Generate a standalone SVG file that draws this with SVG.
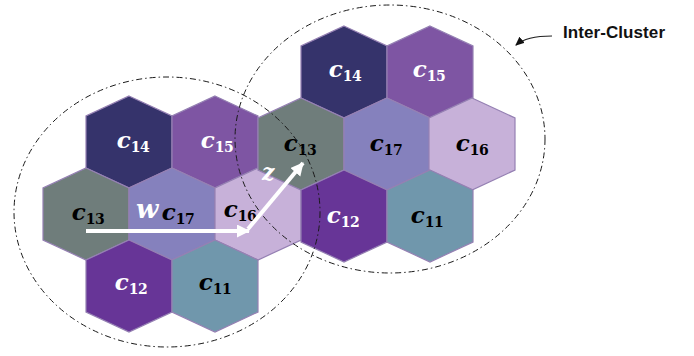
<svg xmlns="http://www.w3.org/2000/svg" width="694" height="356" viewBox="0 0 694 356">
<style>
.hex{stroke:#9580b3;stroke-width:1.2}
.f14{fill:#35336b}.f15{fill:#7e55a3}.f13{fill:#6f7d7b}.f17{fill:#8581bd}.f16{fill:#c7b1d9}.f12{fill:#673597}.f11{fill:#7097ac}
.lbl{font-family:"DejaVu Serif","Liberation Serif",serif;text-anchor:middle}
.c{font-size:23px;font-weight:bold;font-style:italic}
.s{font-size:14px;font-weight:bold;letter-spacing:-0.5px}
.wt{fill:#ffffff}.bk{fill:#000000}
.ell{fill:none;stroke:#1a1a1a;stroke-width:1;stroke-dasharray:6 3 1.5 3}
.arr{stroke:#ffffff;stroke-width:4;fill:none}
.ptr{stroke:#222;stroke-width:1.2;fill:none}
.var{font-family:"DejaVu Serif","Liberation Serif",serif;font-weight:bold;font-style:italic;fill:#ffffff}
.title{font-family:"Liberation Sans",Arial,sans-serif;font-weight:bold;font-size:17px;fill:#111}
</style>
<defs>
<path id="hx" d="M0,-46 L43,-26 L43,26 L0,46 L-43,26 L-43,-26 Z"/>
<marker id="wh" markerUnits="userSpaceOnUse" markerWidth="14" markerHeight="14" refX="12" refY="6.5" orient="auto" viewBox="0 0 14 14">
<path d="M0,0 L13,6.5 L0,13 Z" fill="#ffffff"/>
</marker>
<marker id="bh" markerUnits="userSpaceOnUse" markerWidth="10" markerHeight="10" refX="8" refY="4" orient="auto" viewBox="0 0 10 10">
<path d="M0,0 L9,4 L0,8 Z" fill="#111"/>
</marker>
</defs>

<g id="left-cluster">
<g id="L-c14"><use href="#hx" class="hex f14" x="129" y="142"/><text class="lbl wt" x="133" y="148"><tspan class="c">c</tspan><tspan class="s" dy="4">14</tspan></text></g>
<g id="L-c15"><use href="#hx" class="hex f15" x="215" y="142"/><text class="lbl wt" x="217" y="148"><tspan class="c">c</tspan><tspan class="s" dy="4">15</tspan></text></g>
<g id="L-c13"><use href="#hx" class="hex f13" x="86" y="214"/><text class="lbl bk" x="88" y="220"><tspan class="c">c</tspan><tspan class="s" dy="4">13</tspan></text></g>
<g id="L-c17"><use href="#hx" class="hex f17" x="172" y="214"/><text class="lbl bk" x="178" y="220"><tspan class="c">c</tspan><tspan class="s" dy="4">17</tspan></text></g>
<g id="L-c16"><use href="#hx" class="hex f16" x="258" y="214"/><text class="lbl bk" x="240" y="217"><tspan class="c">c</tspan><tspan class="s" dy="4">16</tspan></text></g>
<g id="L-c12"><use href="#hx" class="hex f12" x="129" y="286"/><text class="lbl wt" x="131" y="290"><tspan class="c">c</tspan><tspan class="s" dy="4">12</tspan></text></g>
<g id="L-c11"><use href="#hx" class="hex f11" x="215" y="286"/><text class="lbl bk" x="215" y="290"><tspan class="c">c</tspan><tspan class="s" dy="4">11</tspan></text></g>
</g>

<g id="right-cluster">
<g id="R-c14"><use href="#hx" class="hex f14" x="344" y="72"/><text class="lbl wt" x="345" y="77"><tspan class="c">c</tspan><tspan class="s" dy="4">14</tspan></text></g>
<g id="R-c15"><use href="#hx" class="hex f15" x="430" y="72"/><text class="lbl wt" x="429" y="77"><tspan class="c">c</tspan><tspan class="s" dy="4">15</tspan></text></g>
<g id="R-c13"><use href="#hx" class="hex f13" x="301" y="144"/><text class="lbl bk" x="300" y="151"><tspan class="c">c</tspan><tspan class="s" dy="4">13</tspan></text></g>
<g id="R-c17"><use href="#hx" class="hex f17" x="387" y="144"/><text class="lbl bk" x="386" y="151"><tspan class="c">c</tspan><tspan class="s" dy="4">17</tspan></text></g>
<g id="R-c16"><use href="#hx" class="hex f16" x="472" y="144"/><text class="lbl bk" x="472" y="151"><tspan class="c">c</tspan><tspan class="s" dy="4">16</tspan></text></g>
<g id="R-c12"><use href="#hx" class="hex f12" x="344" y="216"/><text class="lbl wt" x="343" y="223"><tspan class="c">c</tspan><tspan class="s" dy="4">12</tspan></text></g>
<g id="R-c11"><use href="#hx" class="hex f11" x="430" y="216"/><text class="lbl bk" x="427" y="223"><tspan class="c">c</tspan><tspan class="s" dy="4">11</tspan></text></g>
</g>

<g id="clusters">
<ellipse class="ell" cx="167" cy="212" rx="153" ry="135"/>
<ellipse class="ell" cx="390" cy="139" rx="155" ry="134"/>
</g>

<g id="connectors">
<line class="arr" x1="86" y1="231" x2="249" y2="231" marker-end="url(#wh)"/>
<line class="arr" x1="248" y1="229" x2="303" y2="163" marker-end="url(#wh)"/>
<path class="ptr" d="M552,36 C538,36 524,38 516,45" marker-end="url(#bh)"/>
</g>

<g id="labels">
<text class="var" x="136" y="218" font-size="26">w</text>
<text class="var" x="262" y="180" font-size="22">z</text>
<text class="title" x="563" y="38" textLength="102">Inter-Cluster</text>
</g>
</svg>
